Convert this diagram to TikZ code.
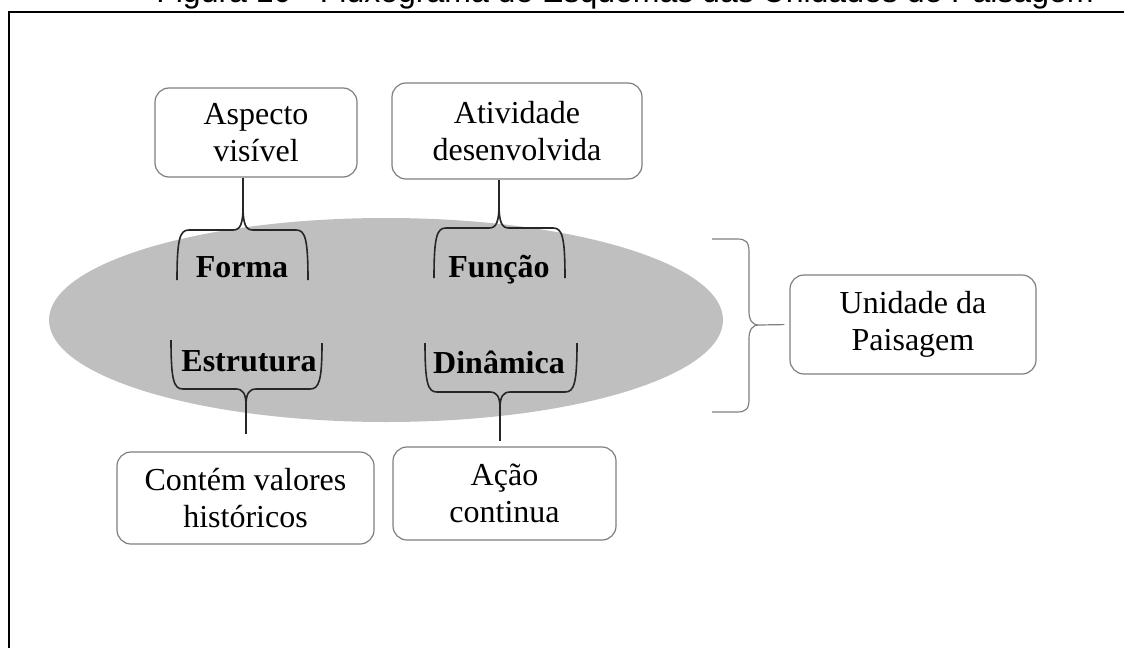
\documentclass[tikz,border=0pt]{standalone}
\usepackage{fontspec}
\setmainfont{Liberation Serif}
\newfontfamily\titlefont{Liberation Sans}
\usetikzlibrary{positioning}
\definecolor{ellgray}{HTML}{BFBFBF}
\definecolor{rim}{HTML}{7F7F7F}
\tikzstyle{conn} = [
    line width=0.8pt,
    draw=black!85
]

\begin{document}
\begin{tikzpicture}[
    x=0.5pt, y=-0.5pt,
    box/.style={
        rectangle,
        draw=rim,
        rounded corners=7pt,
        align=center,
        fill=white,
        font=\fontsize{16}{18.5}\selectfont,
        line width=0.6pt
    },
    facet/.style={
        anchor=base,
        font=\bfseries\fontsize{16}{18.5}\selectfont
    },
    bracket/.style={line width=0.8pt, draw=black!85},
    bigbracket/.style={line width=0.6pt, draw=rim}
]
\useasboundingbox (0,0) rectangle (1124,648);

% Title and frame
\node[anchor=base, font=\titlefont\fontsize{16}{18}\selectfont] (title) at (625,3)
    {Figura 10 - Fluxograma de Esquemas das Unidades de Paisagem};
\draw[line width=1pt] (1124,11.5) -- (9,11.5) -- (9,648);

% Landscape unit ellipse
\fill[ellgray] (386,320) ellipse [x radius=168.5pt, y radius=51pt];

% Top row
\node[box, minimum width=101pt, minimum height=44.5pt] (aspecto) at (256,132.5) {Aspecto\\visível};
\node[box, minimum width=125pt, minimum height=48pt] (atividade) at (517,131) {Atividade\\desenvolvida};

% Facets inside the ellipse
\node[facet] (forma) at (242,277) {Forma};
\node[facet] (funcao) at (499,277) {Função};
\node[facet] (estrutura) at (249,371) {Estrutura};
\node[facet] (dinamica) at (499,373) {Dinâmica};

% Bottom row
\node[box, minimum width=128.5pt, minimum height=46pt] (contem) at (245.5,498) {Contém valores\\históricos};
\node[box, minimum width=111.5pt, minimum height=46.5pt] (acao) at (504.5,493.5) {Ação\\continua};

% Right side
\node[box, minimum width=123pt, minimum height=49.5pt] (unidade) at (913,324.5) {Unidade da\\Paisagem};

% Braces above
\coordinate (formatip) at (243,206);
\coordinate (funcaotip) at (499,204);
\draw[bracket] (177,280) .. controls (177,238) and (180,230) .. (189,230) -- (233,230)
    .. controls (240,230) and (243,225) .. (formatip)
    .. controls (243,225) and (246,230) .. (253,230) -- (296,230)
    .. controls (305,230) and (308,238) .. (308,280);
\draw[bracket] (434,278) .. controls (434,236) and (437,228) .. (446,228) -- (489,228)
    .. controls (496,228) and (499,223) .. (funcaotip)
    .. controls (499,223) and (502,228) .. (509,228) -- (553,228)
    .. controls (562,228) and (565,236) .. (565,278);

% Braces below
\coordinate (estrtip) at (246,405);
\coordinate (dinatip) at (500,408);
\draw[bracket] (171,340) .. controls (171,381) and (174,389) .. (183,389) -- (236,389)
    .. controls (243,389) and (246,394) .. (estrtip)
    .. controls (246,394) and (249,389) .. (256,389) -- (310,389)
    .. controls (319,389) and (322,381) .. (322,343);
\draw[bracket] (425,343) .. controls (425,384) and (428,392) .. (437,392) -- (490,392)
    .. controls (497,392) and (500,397) .. (dinatip)
    .. controls (500,397) and (503,392) .. (510,392) -- (565,392)
    .. controls (574,392) and (577,384) .. (577,343);

% Big brace
\coordinate (bigtip) at (759,325);
\draw[bigbracket] (712,239) -- (737,239) .. controls (746,239) and (749,242) .. (749,252) -- (749,311)
    .. controls (749,320) and (752,325) .. (bigtip)
    .. controls (752,325) and (749,330) .. (749,339) -- (749,399)
    .. controls (749,409) and (746,412) .. (737,412) -- (712,412);

% Connectors
\draw[conn] (aspecto.south -| formatip) -- (formatip);
\draw[conn] (atividade.south -| funcaotip) -- (funcaotip);
\draw[conn, shorten >=8.5pt] (estrtip) -- (estrtip |- contem.north);
\draw[conn, shorten >=2.5pt] (dinatip) -- (dinatip |- acao.north);
\draw[bigbracket, shorten >=2.5pt] (bigtip) -- (unidade.west);

\end{tikzpicture}
\end{document}
